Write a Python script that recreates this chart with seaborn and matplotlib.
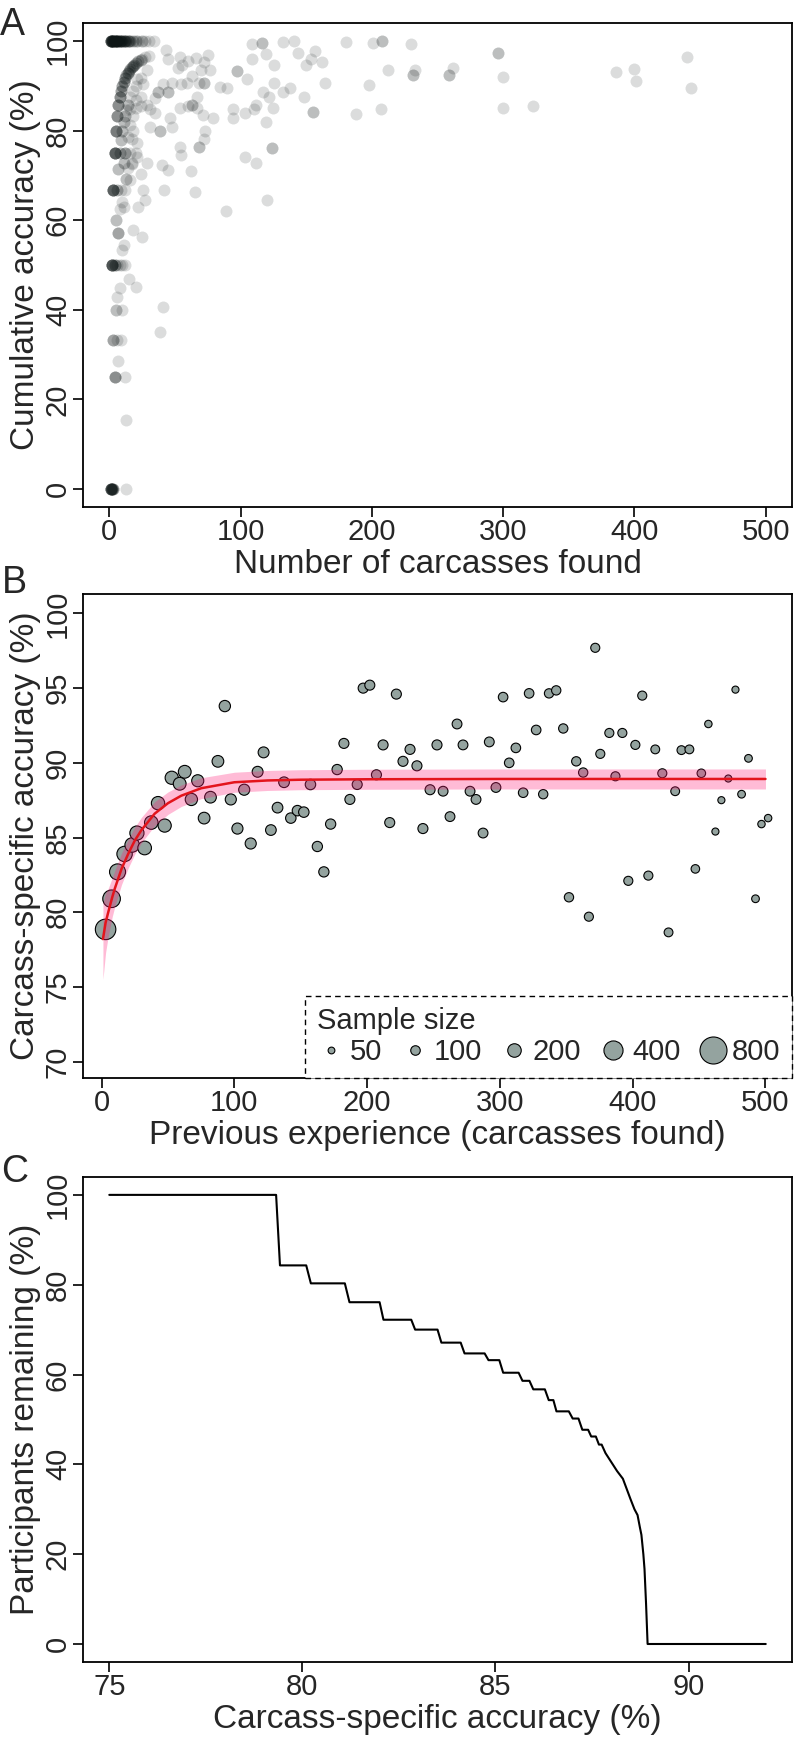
import numpy as np
import seaborn as sns
import matplotlib.pyplot as plt
from matplotlib.lines import Line2D

# ---- Panel A: cumulative accuracy per participant (count = overlapping participants)
a_found = [1, 2, 3, 4, 5, 6, 7, 8, 9, 10, 11, 12, 13, 14, 15, 16, 18, 20, 22, 25, 27, 30, 34,
           109, 116, 132, 141, 180, 201, 208, 230,
           5, 6, 7, 8, 9, 10, 11, 12, 13, 14, 15, 16, 17, 18, 19, 20, 22, 24, 25, 27, 30,
           1, 2, 3, 13, 2, 4, 6, 8, 10, 12, 3, 6, 9, 12, 4, 8, 12, 16, 20, 3, 6, 9, 4, 12, 5, 10,
           7, 13, 7, 5, 8, 10, 11, 18, 25, 41, 39, 15, 20, 8, 6, 10,
           7, 9, 10, 11, 12, 13, 14, 16, 18, 20, 24, 11, 13, 14, 16, 18, 20, 24, 17,
           43, 54, 55.5, 45, 52, 60, 66, 72, 75, 70,
           77, 84, 90, 97, 105, 109, 119, 125.5, 125.5, 117,
           122, 125, 132, 138, 148, 144, 150, 157, 154, 162,
           164, 155, 188, 198, 207, 212, 94, 94, 103, 110,
           112, 119, 124, 103, 112, 120, 89, 65, 42, 54,
           55, 62, 68, 73, 72, 79, 71, 46, 39, 31,
           40, 45, 29, 48, 54, 55, 45, 41, 48, 60,
           63, 67, 67, 63, 59, 68, 72, 35, 29, 31,
           35, 37, 29, 21, 26, 20, 24, 16, 18, 17,
           21, 17, 21, 24, 14, 16, 26, 27, 22, 11,
           296, 440, 233, 231, 262, 259, 300, 386, 400, 401,
           443, 300, 323]
a_acc = [100] * 23 + \
        [99.4, 99.6, 99.7, 100, 99.7, 99.5, 100, 99.4,
         80, 83.3, 85.7, 87.5, 88.9, 90, 90.9, 91.7, 92.3, 92.9, 93.3, 93.8, 94.1, 94.4, 94.7, 95, 95.5, 95.8, 96, 96.3, 96.7,
         0, 0, 0, 0, 50, 50, 50, 50, 50, 50, 66.7, 66.7, 66.7, 66.7, 75, 75, 75, 75, 75, 33.3, 33.3, 33.3, 25, 25, 40, 40,
         28.6, 15.4, 57.1, 60, 62.5, 64, 54.5, 57.9, 56.3, 40.6, 35, 46.9, 45, 44.9, 42.9, 53.3,
         71.4, 77.8, 80, 81.8, 83.3, 84.6, 85.7, 87.5, 88.9, 90, 91.7, 72.7, 69.2, 78.6, 81.3, 83.3, 85, 87.5, 72.6,
         97.9, 96.5, 94.7, 95.9, 94, 95.5, 96.2, 95.2, 96.8, 93.5,
         93.6, 89.8, 89.6, 93.3, 91.6, 95.9, 97, 94.7, 90.7, 88.7,
         87.4, 85.1, 88.5, 89.6, 87.4, 97.4, 94.7, 97.7, 95.9, 95.2,
         90.5, 84.2, 83.8, 90.1, 84.7, 93.6, 84.7, 82.9, 84, 84.7,
         85.6, 81.8, 76, 74.2, 72.8, 64.6, 62, 66.3, 66.8, 76.4,
         74.6, 71, 76.4, 79.8, 78, 82.9, 83.4, 82.9, 79.8, 80.9,
         72.4, 71.3, 72.8, 80.9, 85.1, 90.3, 88.7, 90.3, 90.7, 85.4,
         85.8, 85.1, 87.4, 92.1, 90.7, 90.7, 90.7, 87.2, 85.8, 84.7,
         84, 88.7, 93.4, 91.4, 90.3, 86.9, 85.4, 84.7, 79.8, 78,
         77.3, 72.8, 74.2, 70.2, 71.7, 69, 66.8, 64.6, 63, 63,
         97.2, 96.3, 93.6, 92.5, 94, 92.5, 92, 93, 93.7, 91,
         89.4, 85, 85.4]
a_count = [8, 6, 6, 5, 5, 4, 4, 4, 3, 3, 3, 3, 2, 2, 2, 2, 2, 2, 1, 2, 1, 1, 1,
           1, 2, 1, 1, 1, 1, 2, 1,
           5, 4, 4, 4, 3, 3, 3, 3, 2, 3, 2, 2, 2, 2, 2, 2, 2, 2, 1, 1, 1,
           8, 5, 3, 1, 8, 3, 1, 1, 1, 1, 7, 2, 1, 1, 7, 2, 3, 1, 1, 3, 1, 1, 4, 1, 2, 1,
           1, 1, 3, 2, 1, 1, 1, 1, 1, 1, 1, 1, 1, 1, 1, 1,
           2, 2, 2, 2, 2, 1, 2, 1, 1, 1, 1, 2, 2, 1, 1, 1, 1, 1, 1,
           1, 1, 1, 1, 1, 1, 1, 1, 1, 1,
           1, 1, 1, 2, 1, 1, 1, 1, 1, 1,
           1, 1, 1, 1, 1, 1, 1, 1, 1, 1,
           1, 2, 1, 1, 1, 1, 1, 1, 1, 1,
           1, 1, 2, 1, 1, 1, 1, 1, 1, 1,
           1, 1, 2, 1, 1, 1, 1, 1, 2, 1,
           1, 1, 1, 1, 1, 1, 2, 1, 1, 1,
           2, 1, 1, 1, 1, 1, 2, 1, 1, 1,
           1, 2, 1, 1, 1, 1, 1, 1, 1, 1,
           1, 1, 1, 1, 1, 1, 1, 1, 1, 1,
           2, 1, 1, 2, 1, 2, 1, 1, 1, 1,
           1, 1, 1]

# ---- Panel B: carcass-specific accuracy by previous experience
b_exp = [3, 7.5, 12, 17.3, 23, 26.6, 32.4, 37.4, 42.5, 47.5,
         52.8, 58.8, 62.6, 67.6, 72.4, 77.2, 82, 87.6, 92.8, 97.3,
         102.3, 107.4, 112.3, 117.5, 122, 127.5, 132.5, 137.4, 142.5, 147.5,
         152.3, 157.3, 162.5, 167.4, 172.5, 177.4, 182.5, 187, 192.5, 197,
         202, 207, 212, 217, 222, 227, 232.3, 237.5, 242, 247.4,
         252.6, 257.2, 262.4, 267.7, 272.2, 277.5, 282, 287.3, 292, 297,
         302.4, 307, 312, 317.5, 322, 327.3, 332.6, 337, 342.4, 347.7,
         352, 357.5, 362.7, 367, 371.8, 375.6, 382.4, 387, 392.2, 396.7,
         402, 407.2, 411.8, 417, 422.3, 427, 432, 436.7, 442.7, 447.2,
         451.7, 457, 462.3, 466.8, 472, 477.4, 482, 487.2, 492.5, 497,
         502]
b_acc = [78.85, 80.9, 82.7, 83.9, 84.5, 85.3, 84.3, 86.0, 87.3, 85.8,
         89.0, 88.6, 89.4, 87.55, 88.8, 86.3, 87.7, 90.1, 93.8, 87.55,
         85.6, 88.2, 84.6, 89.4, 90.7, 85.5, 87.0, 88.7, 86.3, 86.8,
         86.7, 88.55, 84.4, 82.7, 85.9, 89.55, 91.3, 87.55, 88.55, 95.0,
         95.2, 89.2, 91.2, 86.0, 94.6, 90.1, 90.9, 89.8, 85.6, 88.2,
         91.2, 88.1, 86.4, 92.6, 91.2, 88.1, 87.55, 85.3, 91.4, 88.35,
         94.4, 90.0, 91.0, 88.0, 94.65, 92.2, 87.9, 94.65, 94.85, 92.3,
         81.0, 90.1, 89.35, 79.7, 97.7, 90.6, 92.0, 89.1, 92.0, 82.1,
         91.2, 94.5, 82.45, 90.9, 89.3, 78.65, 88.1, 90.85, 90.9, 82.9,
         89.3, 92.6, 85.4, 87.5, 88.95, 94.9, 87.9, 90.3, 80.9, 85.9,
         86.3]
b_n = [460, 340, 280, 260, 230, 220, 205, 200, 195, 190,
       190, 180, 180, 165, 160, 150, 150, 150, 140, 135,
       135, 135, 135, 130, 130, 125, 125, 125, 120, 120,
       120, 120, 115, 115, 115, 115, 110, 110, 110, 110,
       110, 110, 110, 110, 110, 110, 110, 110, 110, 110,
       110, 105, 105, 105, 105, 105, 105, 105, 105, 105,
       100, 100, 100, 100, 100, 100, 95, 95, 95, 95,
       95, 95, 95, 90, 90, 90, 90, 90, 90, 90,
       90, 90, 90, 85, 90, 85, 85, 85, 85, 80,
       80, 60, 55, 55, 55, 55, 65, 65, 65, 60,
       60]

# fitted curve and its confidence band
fit_x = [1, 3, 5, 8, 10, 15, 20, 25, 30, 40, 50, 60, 75, 100, 125, 150, 200, 300, 400, 500]
fit_y = [78.2, 79.3, 80.0, 81.0, 81.6, 82.9, 83.9, 84.8, 85.5, 86.6, 87.3, 87.8, 88.3, 88.7,
         88.82, 88.87, 88.9, 88.92, 88.92, 88.92]
fit_lo = [75.5, 77.3, 78.4, 79.7, 80.4, 81.85, 82.95, 83.9, 84.65, 85.8, 86.55, 87.08, 87.6, 88.03,
          88.15, 88.2, 88.23, 88.25, 88.25, 88.25]
fit_hi = [80.6, 81.3, 81.6, 82.3, 82.8, 83.95, 84.85, 85.7, 86.35, 87.4, 88.05, 88.52, 89.0, 89.37,
          89.49, 89.54, 89.57, 89.59, 89.59, 89.59]

legend_sizes = [50, 100, 200, 400, 800]

# ---- Panel C: participants remaining above an accuracy threshold
c_acc = [75, 79.32, 79.42, 80.1, 80.22, 81.1, 81.22, 82.0, 82.1, 82.82, 82.92, 83.5, 83.6,
         84.1, 84.2, 84.72, 84.82, 85.1, 85.2, 85.6, 85.7, 85.88, 85.98, 86.28, 86.38, 86.5,
         86.58, 86.9, 87.0, 87.15, 87.25, 87.4, 87.48, 87.6, 87.68, 87.75,
         87.85, 88.0, 88.15, 88.3, 88.4, 88.5, 88.6, 88.68, 88.74, 88.78, 88.83, 88.86, 88.9, 88.94, 92]
c_rem = [100, 100, 84.3, 84.3, 80.3, 80.3, 76.1, 76.1, 72.2, 72.2, 70.0, 70.0, 67.1,
         67.1, 64.7, 64.7, 63.2, 63.2, 60.4, 60.4, 58.6, 58.6, 56.7, 56.7, 54.3, 54.3,
         51.8, 51.8, 50.2, 50.2, 47.7, 47.7, 46.2, 46.2, 44.4, 44.4,
         42.5, 40.5, 38.5, 36.8, 34.5, 32.2, 30.0, 28.7, 26.0, 24.3, 20.0, 16.7, 9.0, 0, 0]

sns.set_style("ticks")
plt.rcParams['font.family'] = ['Liberation Sans', 'DejaVu Sans']

fig = plt.figure(figsize=(7.96, 17.41), dpi=100)
ax_a = fig.add_axes([0.1043, 0.7088, 0.8907, 0.2780])
ax_b = fig.add_axes([0.1043, 0.3808, 0.8907, 0.2780])
ax_c = fig.add_axes([0.1043, 0.0454, 0.8907, 0.2786])

pt_fill = '#94a39f'

# A
sns.scatterplot(x=np.repeat(a_found, a_count), y=np.repeat(a_acc, a_count),
                color='#0e1616', alpha=0.15, s=74, linewidth=0, ax=ax_a)
ax_a.set_xlim(-20, 520)
ax_a.set_ylim(-4, 104)
ax_a.set_xticks([0, 100, 200, 300, 400, 500])
ax_a.set_yticks([0, 20, 40, 60, 80, 100])

# B
sns.scatterplot(x=b_exp, y=b_acc, size=b_n, sizes=(0, 473), size_norm=(0, 1000),
                color=pt_fill, edgecolor='black', linewidth=0.8, legend=False, ax=ax_b, zorder=2)
ax_b.fill_between(fit_x, fit_lo, fit_hi, color='#ff1f7a', alpha=0.3, lw=0, zorder=3)
sns.lineplot(x=fit_x, y=fit_y, color='#e3141c', lw=1.8, ax=ax_b, zorder=4)
ax_b.set_xlim(-14, 520)
ax_b.set_ylim(68.9, 101.3)
ax_b.set_xticks([0, 100, 200, 300, 400, 500])
ax_b.set_yticks([70, 75, 80, 85, 90, 95, 100])

handles = [Line2D([], [], ls='', marker='o', markersize=np.sqrt(0.473 * n),
                  markerfacecolor=pt_fill, markeredgecolor='black', markeredgewidth=0.8)
           for n in legend_sizes]
leg = ax_b.legend(handles, [str(n) for n in legend_sizes], title='Sample size', ncol=5,
                  loc='lower right', bbox_to_anchor=(1, 0), borderaxespad=0, frameon=True,
                  fancybox=False, edgecolor='black', framealpha=1, fontsize=21, title_fontsize=21,
                  alignment='left', handletextpad=0.15, columnspacing=0.6, handlelength=1.0,
                  borderpad=0.4, labelspacing=0.1)
leg.get_frame().set_linestyle((0, (4, 3)))
leg.get_frame().set_linewidth(1.0)

# C
sns.lineplot(x=c_acc, y=c_rem, sort=False, estimator=None, color='black', lw=1.5, ax=ax_c)
ax_c.set_xlim(74.32, 92.68)
ax_c.set_ylim(-4, 104)
ax_c.set_xticks([75, 80, 85, 90])
ax_c.set_yticks([0, 20, 40, 60, 80, 100])

labels = [(ax_a, "Number of carcasses found", "Cumulative accuracy (%)"),
          (ax_b, "Previous experience (carcasses found)", "Carcass-specific accuracy (%)"),
          (ax_c, "Carcass-specific accuracy (%)", "Participants remaining (%)")]
for ax, xl, yl in labels:
    for sp in ax.spines.values():
        sp.set_visible(True)
        sp.set_linewidth(1.3)
        sp.set_color('black')
    ax.tick_params(axis='both', direction='out', length=7, width=1.2, labelsize=21,
                   color='black', pad=1)
    for lab in ax.get_yticklabels():
        lab.set_rotation(90)
        lab.set_va('center')
    ax.set_xlabel(xl, fontsize=24, labelpad=2)
    ax.set_ylabel(yl, fontsize=24, labelpad=2)

fig.text(0.0, 1 - 35 / 1741, 'A', fontsize=27, va='baseline', ha='left')
fig.text(0.002, 1 - 593 / 1741, 'B', fontsize=27, va='baseline', ha='left')
fig.text(0.002, 1 - 1182 / 1741, 'C', fontsize=27, va='baseline', ha='left')

fig.savefig('out.png', dpi=100)
